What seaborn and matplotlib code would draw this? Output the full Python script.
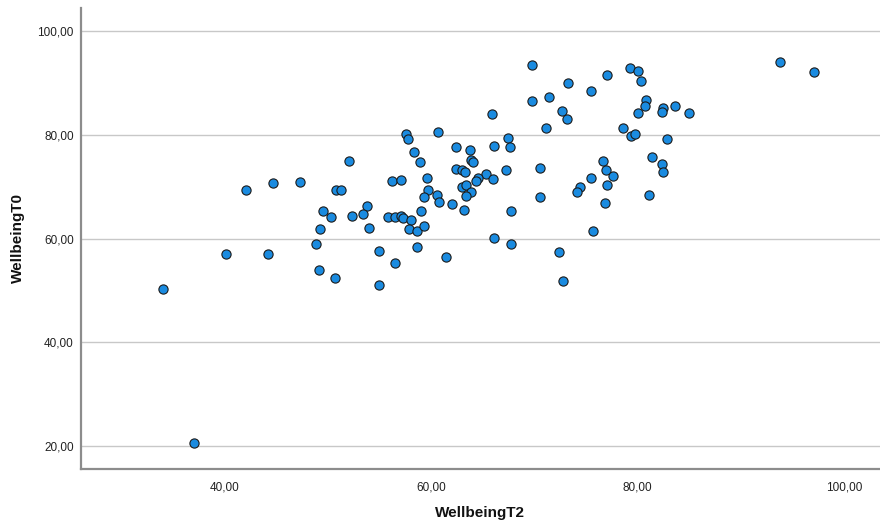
import matplotlib
matplotlib.use("Agg")
import matplotlib.pyplot as plt
from matplotlib.ticker import FuncFormatter
import seaborn as sns
import pandas as pd

# Wellbeing scores at T2 (x) and T0 (y), one entry per respondent
wellbeing_t2 = [
    34.0, 37.0, 40.1, 44.2, 42.1, 44.7, 47.3, 49.5, 50.3, 49.3, 48.9, 49.2, 50.7,
    57.6, 57.8, 60.7, 65.9, 67.5, 67.7, 66.1, 62.4, 63.8, 58.4, 63.9, 64.1, 52.1,
    58.9, 62.4, 63.0, 63.3, 65.3, 67.3, 59.6, 56.2, 57.1, 64.6, 64.4, 66.0, 50.8,
    51.3, 63.0, 63.4, 63.9, 59.7, 59.3, 60.6, 60.8, 63.4, 62.0, 53.8, 59.0, 63.2,
    67.8, 52.4, 53.4, 55.8, 56.5, 57.1, 57.3, 58.1, 54.0, 57.9, 58.6, 59.3, 66.1,
    67.8, 55.0, 58.6, 61.5, 56.5, 55.0,
    69.8, 79.3, 80.1, 80.3, 77.1, 73.3, 75.5, 69.8, 71.4, 72.7, 73.2, 71.1, 80.8,
    80.7, 82.5, 82.4, 83.6, 85.0, 80.1, 78.6, 79.4, 79.8, 82.9, 70.6, 76.7, 81.4,
    82.4, 82.5, 77.0, 77.6, 75.5, 74.4, 74.1, 77.1, 81.1, 70.6, 76.9,
    93.8, 97.1, 75.7, 72.4, 72.8,
]
wellbeing_t0 = [
    50.4, 20.6, 57.0, 57.0, 69.4, 70.8, 70.9, 65.3, 64.2, 61.8, 59.0, 53.9, 52.5,
    80.1, 79.2, 80.6, 84.1, 79.5, 77.6, 77.9, 77.6, 77.2, 76.8, 75.2, 74.8, 75.0,
    74.7, 73.4, 73.2, 72.9, 72.5, 73.2, 71.8, 71.1, 71.3, 71.8, 71.1, 71.5, 69.3,
    69.3, 69.9, 70.3, 69.1, 69.4, 68.0, 68.5, 67.0, 68.2, 66.7, 66.4, 65.3, 65.6,
    65.4, 64.3, 64.7, 64.2, 64.1, 64.4, 64.0, 63.7, 62.1, 61.8, 61.5, 62.5, 60.1,
    59.0, 57.6, 58.5, 56.5, 55.3, 51.1,
    93.4, 92.9, 92.3, 90.5, 91.5, 90.0, 88.5, 86.6, 87.3, 84.7, 83.1, 81.4, 86.8,
    85.6, 85.3, 84.5, 85.6, 84.2, 84.2, 81.3, 79.8, 80.1, 79.2, 73.6, 75.0, 75.7,
    74.4, 72.9, 73.2, 72.0, 71.8, 69.9, 69.1, 70.3, 68.4, 68.0, 66.8,
    94.1, 92.2, 61.5, 57.4, 51.9,
]

x_ticks = [40, 60, 80, 100]
y_ticks = [20, 40, 60, 80, 100]

df = pd.DataFrame({"WellbeingT2": wellbeing_t2, "WellbeingT0": wellbeing_t0})

sns.set_theme(style="white")
plt.rcParams["font.family"] = ["Liberation Sans", "DejaVu Sans"]

fig = plt.figure(figsize=(8.8, 5.28), dpi=100)
ax = fig.add_axes([0.0917, 0.1117, 0.9083, 0.8733])

sns.scatterplot(
    data=df, x="WellbeingT2", y="WellbeingT0", ax=ax,
    s=44, color="#1a8be0", edgecolor="#1b1b1b", linewidth=0.8, zorder=3,
)

ax.set_xlim(26.07, 103.5)
ax.set_ylim(15.6, 104.5)
ax.set_xticks(x_ticks)
ax.set_yticks(y_ticks)

comma_fmt = FuncFormatter(lambda v, _: f"{v:.2f}".replace(".", ","))
ax.xaxis.set_major_formatter(comma_fmt)
ax.yaxis.set_major_formatter(comma_fmt)

ax.yaxis.grid(True, color="#c8c8c8", linewidth=1.0, zorder=0)
ax.xaxis.grid(False)
ax.set_axisbelow(True)

for side in ("top", "right"):
    ax.spines[side].set_visible(False)
for side in ("left", "bottom"):
    ax.spines[side].set_color("#8c8c8c")
    ax.spines[side].set_linewidth(1.6)

ax.tick_params(axis="both", length=0, colors="#222222")
ax.tick_params(axis="x", labelsize=8.5, pad=9)
ax.tick_params(axis="y", labelsize=8.5, pad=5)

ax.set_xlabel("WellbeingT2", fontsize=11, fontweight="bold", color="#111111", labelpad=9)
ax.set_ylabel("WellbeingT0", fontsize=11, fontweight="bold", color="#111111", labelpad=9)

fig.savefig("out.png", dpi=100)
